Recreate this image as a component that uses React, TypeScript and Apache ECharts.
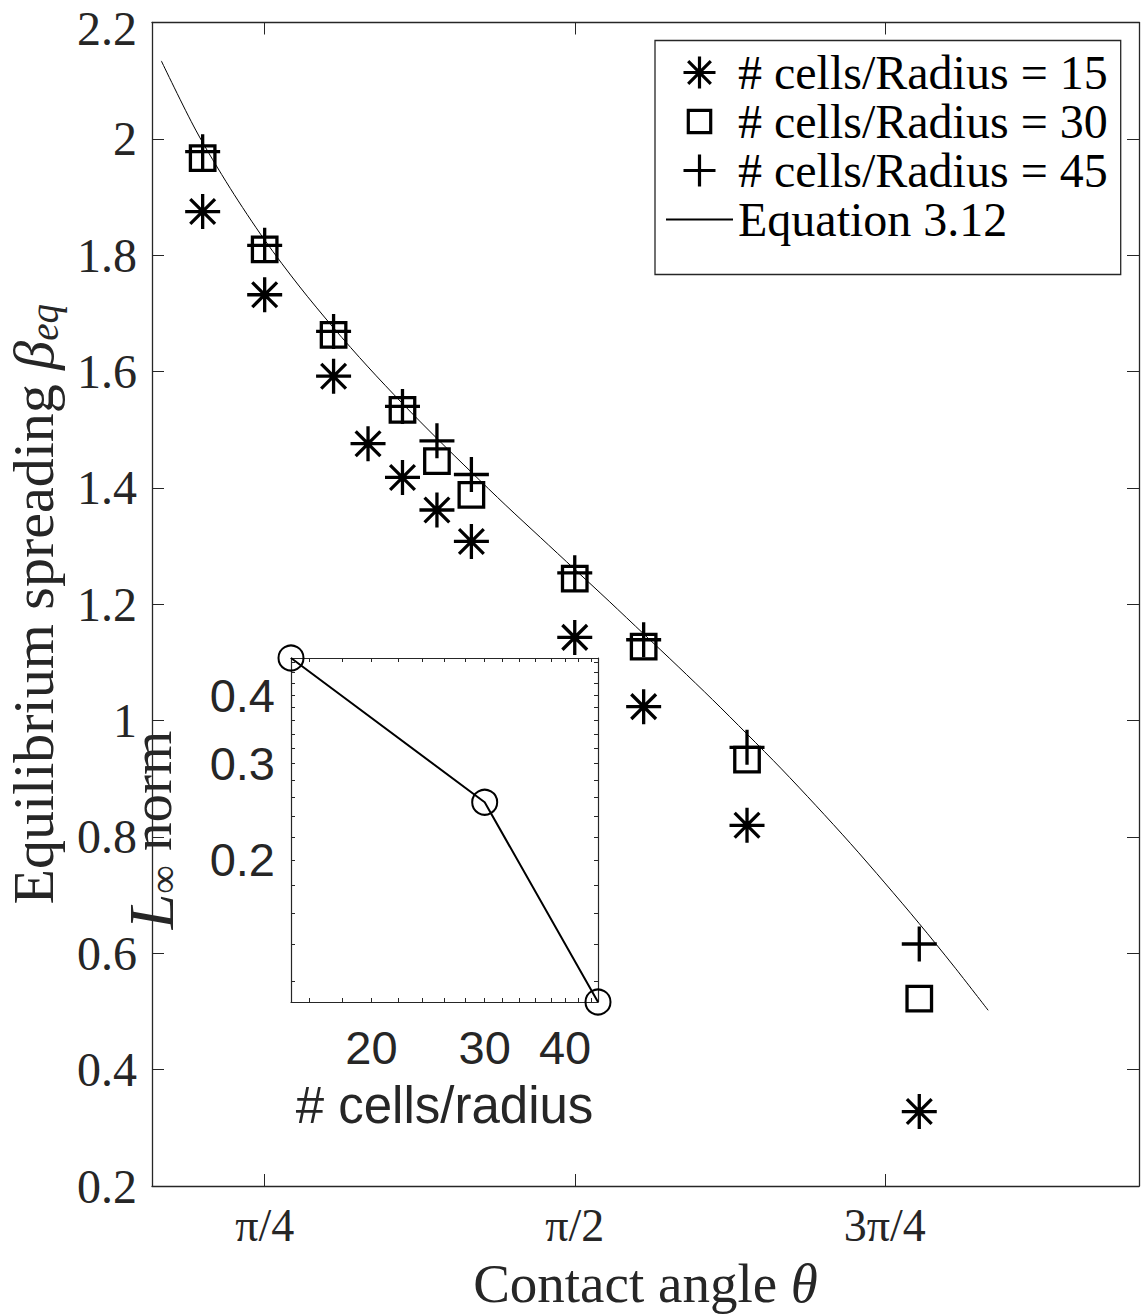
import React, { useEffect, useRef } from "react";
import * as echarts from "echarts";

// contact angles (degrees) of the simulated drops
const thetaDeg15 = [36, 45, 55, 60, 65, 70, 75, 90, 100, 115, 140];
const beta15 = [1.875, 1.732, 1.592, 1.476, 1.418, 1.362, 1.308, 1.143, 1.024, 0.82, 0.328];
const thetaDeg30 = [36, 45, 55, 65, 70, 75, 90, 100, 115, 140];
const beta30 = [1.967, 1.81, 1.663, 1.534, 1.446, 1.388, 1.244, 1.127, 0.933, 0.522];
const thetaDeg45 = [36, 45, 55, 65, 70, 75, 90, 100, 115, 140];
const beta45 = [1.978, 1.817, 1.669, 1.54, 1.481, 1.423, 1.254, 1.139, 0.954, 0.616];

// Equation 3.12 curve
const eqThetaDeg = [30, 35, 40, 45, 50, 55, 60, 65, 70, 75, 80, 85, 90, 95, 100, 105, 110, 115, 120, 125, 130, 135, 140, 145, 150];
const eqBeta = [2.134, 2.015, 1.915, 1.826, 1.747, 1.675, 1.608, 1.545, 1.485, 1.427, 1.37, 1.315, 1.26, 1.205, 1.149, 1.093, 1.036, 0.977, 0.917, 0.854, 0.789, 0.721, 0.651, 0.578, 0.502];

// x ticks (radians) and their labels
const xTickValues = [Math.PI / 4, Math.PI / 2, (3 * Math.PI) / 4];
const xTickLabels = ["π/4", "π/2", "3π/4"];

// inset: L-infinity norm vs resolution
const cellsPerRadius = [15, 30, 45];
const linfNorm = [0.468, 0.255, 0.11];
const insetXLabelValues = [20, 30, 40];
const insetXTickValues = [16, 18, 20, 22, 24, 26, 28, 30, 32, 34, 36, 38, 40, 42, 44];
const insetYLabelValues = [0.2, 0.3, 0.4];
const insetYTickValues = [0.12, 0.14, 0.16, 0.18, 0.2, 0.22, 0.24, 0.26, 0.28, 0.3, 0.32, 0.34, 0.36, 0.38, 0.4, 0.42, 0.44, 0.46];

const legendNames = ["# cells/Radius = 15", "# cells/Radius = 30", "# cells/Radius = 45", "Equation 3.12"];

const toRad = (d: number) => (d * Math.PI) / 180;

const STAR = "path://M0,-1L0,1M-1,0L1,0M-0.7071,-0.7071L0.7071,0.7071M-0.7071,0.7071L0.7071,-0.7071";
const PLUS = "path://M0,-1L0,1M-1,0L1,0";
const SQUARE = "path://M-1,-1M1,1M-0.7,-0.7L0.7,-0.7L0.7,0.7L-0.7,0.7Z";

const SERIF = "Liberation Serif";
const SANS = "Liberation Sans";
const AX = "#262626";

export default function App() {
  const ref = useRef<HTMLDivElement>(null);
  useEffect(() => {
    if (!ref.current) return;
    const chart = echarts.init(ref.current, undefined, { renderer: "svg" });

    const markerStyle = { color: "transparent", borderColor: "#000", borderWidth: 3.3, opacity: 1 };
    const mainAxisLine = { show: true, onZero: false, lineStyle: { color: AX, width: 1.3 } };
    const insetAxisLine = { show: true, onZero: false, lineStyle: { color: AX, width: 1.2 } };

    const fmtX = (v: number) => {
      for (let i = 0; i < xTickValues.length; i++) if (Math.abs(v - xTickValues[i]) < 1e-6) return xTickLabels[i];
      return "";
    };
    const fmtNum = (v: number) => String(parseFloat(Number(v).toPrecision(4)));
    const fmtMainY = (v: number) => {
      const s = fmtNum(v);
      return Math.abs(v - 2.2) < 1e-6 ? "{top|" + s + "}" : s;
    };

    const option: any = {
      animation: false,
      backgroundColor: "#fff",
      textStyle: { fontFamily: SERIF },
      grid: [
        { left: 152, top: 22.5, width: 987, height: 1163.5, show: false, outerBoundsMode: "none" },
        { left: 291, top: 658, width: 307, height: 344, show: true, backgroundColor: "#fff", borderWidth: 0, outerBoundsMode: "none" },
      ],
      legend: {
        data: [
          legendNames[0],
          legendNames[1],
          legendNames[2],
          { name: legendNames[3], itemStyle: { color: "transparent", borderColor: "transparent", borderWidth: 0 } },
        ],
        orient: "vertical",
        left: 655,
        top: 40.5,
        padding: [8, 13, 31, 10],
        itemWidth: 67,
        itemHeight: 32,
        itemGap: 1,
        borderColor: AX,
        borderWidth: 1.3,
        backgroundColor: "#fff",
        selectedMode: false,
        itemStyle: { borderWidth: 3.2 },
        textStyle: { fontSize: 48, fontFamily: SERIF, color: "#000", lineHeight: 46 },
      },
      xAxis: [
        {
          type: "value",
          gridIndex: 0,
          position: "bottom",
          min: 0.5,
          max: 3,
          axisLine: mainAxisLine,
          splitLine: { show: false },
          axisTick: { inside: true, length: 12, customValues: xTickValues, lineStyle: { color: AX } },
          axisLabel: { customValues: xTickValues, formatter: fmtX, fontSize: 46, lineHeight: 40, fontFamily: SERIF, color: AX, margin: 19 },
          name: "Contact angle {t|θ}",
          nameLocation: "middle",
          nameGap: 73,
          nameMoveOverlap: false,
          nameTextStyle: {
            fontSize: 55,
            lineHeight: 48,
            fontFamily: SERIF,
            color: AX,
            rich: { t: { fontSize: 55, lineHeight: 48, fontFamily: SERIF, fontStyle: "italic", color: AX } },
          },
        },
        {
          type: "value",
          gridIndex: 0,
          position: "top",
          min: 0.5,
          max: 3,
          axisLine: mainAxisLine,
          splitLine: { show: false },
          axisTick: { inside: true, length: 12, customValues: xTickValues, lineStyle: { color: AX } },
          axisLabel: { show: false },
        },
        {
          type: "log",
          gridIndex: 1,
          position: "bottom",
          min: 15,
          max: 45,
          axisLine: insetAxisLine,
          splitLine: { show: false },
          minorTick: { show: false },
          axisTick: { inside: true, length: 4, customValues: insetXTickValues, lineStyle: { color: AX } },
          axisLabel: { customValues: insetXLabelValues, formatter: fmtNum, fontSize: 47, lineHeight: 40, fontFamily: SANS, color: AX, margin: 25 },
          name: "# cells/radius",
          nameLocation: "middle",
          nameGap: 80,
          nameMoveOverlap: false,
          nameTextStyle: { fontSize: 51, lineHeight: 46, fontFamily: SANS, color: AX },
        },
        {
          type: "log",
          gridIndex: 1,
          position: "top",
          min: 15,
          max: 45,
          axisLine: insetAxisLine,
          splitLine: { show: false },
          axisTick: { inside: true, length: 4, customValues: insetXTickValues, lineStyle: { color: AX } },
          axisLabel: { show: false },
        },
      ],
      yAxis: [
        {
          type: "value",
          gridIndex: 0,
          position: "left",
          min: 0.2,
          max: 2.2,
          interval: 0.2,
          axisLine: mainAxisLine,
          splitLine: { show: false },
          axisTick: { inside: true, length: 12, lineStyle: { color: AX } },
          axisLabel: {
            formatter: fmtMainY,
            fontSize: 48,
            lineHeight: 40,
            fontFamily: SERIF,
            color: AX,
            margin: 15,
            rich: { top: { fontSize: 48, fontFamily: SERIF, color: AX, padding: [11, 0, 0, 0] } },
          },
          name: "{n|Equilibrium spreading }{b|β}{s|eq}",
          nameLocation: "middle",
          nameGap: 88,
          nameMoveOverlap: false,
          nameTextStyle: {
            fontSize: 58,
            fontFamily: SERIF,
            color: AX,
            rich: {
              n: { fontSize: 58, fontFamily: SERIF, color: AX },
              b: { fontSize: 58, fontFamily: SERIF, fontStyle: "italic", color: AX },
              s: { fontSize: 39, fontFamily: SERIF, fontStyle: "italic", color: AX, verticalAlign: "bottom", padding: [22, 0, 0, 0] },
            },
          },
        },
        {
          type: "value",
          gridIndex: 0,
          position: "right",
          min: 0.2,
          max: 2.2,
          interval: 0.2,
          axisLine: mainAxisLine,
          splitLine: { show: false },
          axisTick: { inside: true, length: 12, lineStyle: { color: AX } },
          axisLabel: { show: false },
        },
        {
          type: "log",
          gridIndex: 1,
          position: "left",
          min: 0.11,
          max: 0.468,
          axisLine: insetAxisLine,
          splitLine: { show: false },
          minorTick: { show: false },
          axisTick: { inside: true, length: 4, customValues: insetYTickValues, lineStyle: { color: AX } },
          axisLabel: { customValues: insetYLabelValues, formatter: fmtNum, fontSize: 47, lineHeight: 40, fontFamily: SANS, color: AX, margin: 16 },
          name: "{i|L}{s|∞} norm",
          nameLocation: "middle",
          nameGap: 108,
          nameMoveOverlap: false,
          nameTextStyle: {
            fontSize: 57,
            fontFamily: SERIF,
            color: AX,
            rich: {
              i: { fontSize: 64, fontFamily: SERIF, fontStyle: "italic", color: AX },
              s: { fontSize: 40, fontFamily: SERIF, color: AX, verticalAlign: "bottom", padding: [20, 0, 0, 0] },
            },
          },
        },
        {
          type: "log",
          gridIndex: 1,
          position: "right",
          min: 0.11,
          max: 0.468,
          axisLine: insetAxisLine,
          splitLine: { show: false },
          axisTick: { inside: true, length: 4, customValues: insetYTickValues, lineStyle: { color: AX } },
          axisLabel: { show: false },
        },
      ],
      series: [
        {
          name: legendNames[0],
          type: "scatter",
          xAxisIndex: 0,
          yAxisIndex: 0,
          symbol: STAR,
          symbolSize: 35,
          itemStyle: markerStyle,
          data: thetaDeg15.map((d, i) => [toRad(d), beta15[i]]),
          z: 4,
        },
        {
          name: legendNames[1],
          type: "scatter",
          xAxisIndex: 0,
          yAxisIndex: 0,
          symbol: SQUARE,
          symbolSize: 35,
          itemStyle: markerStyle,
          data: thetaDeg30.map((d, i) => [toRad(d), beta30[i]]),
          z: 4,
        },
        {
          name: legendNames[2],
          type: "scatter",
          xAxisIndex: 0,
          yAxisIndex: 0,
          symbol: PLUS,
          symbolSize: 35,
          itemStyle: markerStyle,
          data: thetaDeg45.map((d, i) => [toRad(d), beta45[i]]),
          z: 4,
        },
        {
          name: legendNames[3],
          type: "line",
          xAxisIndex: 0,
          yAxisIndex: 0,
          symbol: "none",
          showSymbol: false,
          smooth: 0.3,
          lineStyle: { color: "#000", width: 1 },
          itemStyle: { color: "#000" },
          data: eqThetaDeg.map((d, i) => [toRad(d), eqBeta[i]]),
          z: 3,
        },
        {
          name: "L∞ norm",
          type: "line",
          xAxisIndex: 2,
          yAxisIndex: 2,
          symbol: "circle",
          symbolSize: 25,
          showSymbol: true,
          clip: false,
          itemStyle: { color: "transparent", borderColor: "#000", borderWidth: 2, opacity: 1 },
          lineStyle: { color: "#000", width: 2 },
          data: cellsPerRadius.map((c, i) => [c, linfNorm[i]]),
          z: 6,
        },
      ],
    };

    chart.setOption(option);
    return () => chart.dispose();
  }, []);

  return <div ref={ref} style={{ position: "absolute", left: 0, top: 0, width: 1147, height: 1316 }} />;
}
